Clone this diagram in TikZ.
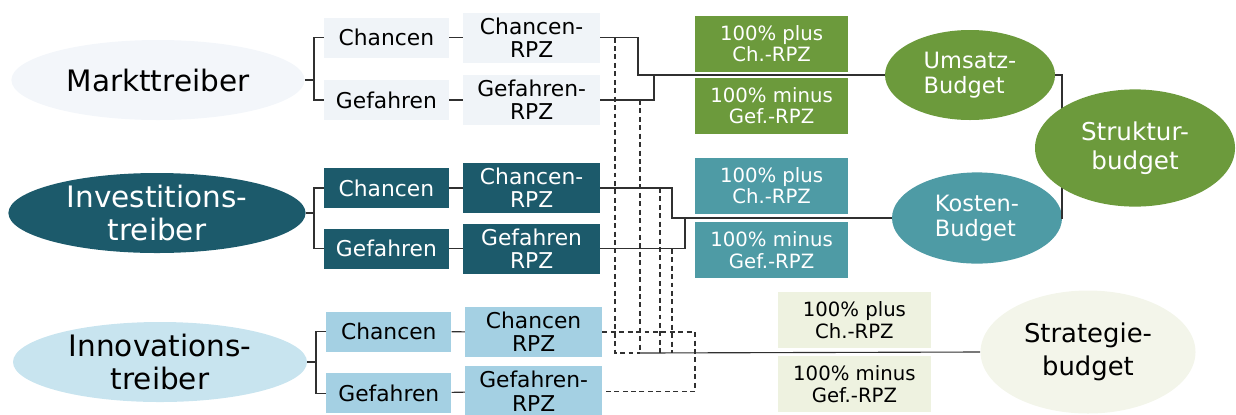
\documentclass[tikz,border=0pt]{standalone}
\usepackage{fontspec}
\setmainfont{DejaVu Sans}
\usetikzlibrary{shapes.geometric}
\definecolor{marktell}{HTML}{F3F6FA}
\definecolor{marktbox}{HTML}{F0F4F8}
\definecolor{invdunkel}{HTML}{1C5A6B}
\definecolor{innoell}{HTML}{C8E4EF}
\definecolor{innobox}{HTML}{A4D0E3}
\definecolor{gruen}{HTML}{6C9A3C}
\definecolor{petrol}{HTML}{4E9BA5}
\definecolor{stratbox}{HTML}{EEF2E0}
\definecolor{stratell}{HTML}{F3F5EA}
\definecolor{linienfarbe}{HTML}{303030}

\begin{document}
\begin{tikzpicture}
    \tikzstyle{treiber}=[ellipse, inner xsep=0pt, inner ysep=-4pt, minimum width=7.35cm, minimum height=2cm, align=center, font=\fontsize{21}{23.5}\selectfont]
    \tikzstyle{feld}=[rectangle, minimum width=3.125cm, minimum height=1cm, align=center, font=\fontsize{15.5}{16.5}\selectfont]
    \tikzstyle{rpz}=[feld, minimum width=3.425cm, minimum height=1.25cm]
    \tikzstyle{anteil}=[rectangle, minimum width=3.825cm, minimum height=1.4cm, align=center, font=\fontsize{14}{15.5}\selectfont]
    \tikzstyle{budget}=[ellipse, inner sep=0pt]
    \tikzstyle{verb}=[draw=linienfarbe, line width=0.8pt]
    \tikzstyle{verbgestr}=[verb, dash pattern=on 3.5pt off 2.5pt]
    \useasboundingbox (0,0) rectangle (30.9,-10.35);
    % Markttreiber
    \node[treiber, fill=marktell, minimum width=7.33cm] (mt) at (3.95,-2.0) {Markttreiber};
    \node[feld, fill=marktbox] (mch) at (9.66,-0.94) {Chancen};
    \node[feld, fill=marktbox] (mge) at (9.66,-2.5) {Gefahren};
    \node[rpz, fill=marktbox] (mchr) at (13.29,-0.94) {Chancen-\\RPZ};
    \node[rpz, fill=marktbox] (mger) at (13.29,-2.5) {Gefahren-\\RPZ};
    % Investitionstreiber
    \node[treiber, fill=invdunkel, text=white, minimum width=7.43cm] (it) at (3.925,-5.325) {Investitions-\\treiber};
    \node[feld, fill=invdunkel, text=white] (ich) at (9.66,-4.7) {Chancen};
    \node[feld, fill=invdunkel, text=white] (ige) at (9.66,-6.22) {Gefahren};
    \node[rpz, fill=invdunkel, text=white] (ichr) at (13.29,-4.7) {Chancen-\\RPZ};
    \node[rpz, fill=invdunkel, text=white] (iger) at (13.29,-6.22) {Gefahren\\RPZ};
    % Innovationstreiber
    \node[treiber, fill=innoell] (nt) at (4.0,-9.05) {Innovations-\\treiber};
    \node[feld, fill=innobox] (nch) at (9.72,-8.29) {Chancen};
    \node[feld, fill=innobox] (nge) at (9.72,-9.83) {Gefahren};
    \node[rpz, fill=innobox] (nchr) at (13.34,-8.3) {Chancen\\RPZ};
    \node[rpz, fill=innobox] (nger) at (13.34,-9.78) {Gefahren-\\RPZ};
    % Anteile
    \node[anteil, fill=gruen, text=white] (mplus) at (19.29,-1.09) {100\% plus\\Ch.-RPZ};
    \node[anteil, fill=gruen, text=white] (mminus) at (19.29,-2.64) {100\% minus\\Gef.-RPZ};
    \node[anteil, fill=petrol, text=white] (iplus) at (19.29,-4.64) {100\% plus\\Ch.-RPZ};
    \node[anteil, fill=petrol, text=white] (iminus) at (19.29,-6.25) {100\% minus\\Gef.-RPZ};
    \node[anteil, fill=stratbox] (nplus) at (21.36,-8.01) {100\% plus\\Ch.-RPZ};
    \node[anteil, fill=stratbox] (nminus) at (21.36,-9.6) {100\% minus\\Gef.-RPZ};
    % Budgets
    \node[budget, fill=gruen, text=white, minimum width=4.25cm, minimum height=2.25cm, align=left, font=\fontsize{16}{18}\selectfont] (umsatz) at (24.25,-1.875) {Umsatz-\\Budget};
    \node[budget, fill=petrol, text=white, minimum width=4.25cm, minimum height=2.28cm, align=left, font=\fontsize{16}{18}\selectfont] (kosten) at (24.425,-5.45) {Kosten-\\Budget};
    \node[budget, fill=stratell, minimum width=5.375cm, minimum height=3.075cm, align=center, font=\fontsize{18.4}{23}\selectfont] (strat) at (27.2,-8.8) {Strategie-\\budget};
    % Klammern
    \coordinate (mb) at (7.85,-2.0);
    \coordinate (ib) at (7.85,-5.325);
    \coordinate (nb) at (7.9,-9.05);
    \draw[verb] (mch.west) -| (mb) |- (mge.west);
    \draw[verb] (mt.east) -- (mb);
    \draw[verb] (ich.west) -| (ib) |- (ige.west);
    \draw[verb] (it.east) -- (ib);
    \draw[verb] (nch.west) -| (nb) |- (nge.west);
    \draw[verb] (nt.east) -- (nb);
    \foreach \a/\b in {mch/mchr, mge/mger, ich/ichr, ige/iger, nch/nchr, nge/nger}
      \draw[verb] (\a) -- (\b);
    % Zusammenfuehrung
    \coordinate (mk) at (15.95,-1.875);
    \coordinate (mj) at (16.35,-1.875);
    \coordinate (ik) at (16.8,-5.45);
    \coordinate (ij) at (17.125,-5.45);
    \draw[verb] (mchr.east) -| (mk) -- (umsatz.west);
    \draw[verb] (mger.east) -| (mj);
    \draw[verb] (ichr.east) -| (ik) -- (kosten.west);
    \draw[verb] (iger.east) -| (ij);
    \coordinate (d1) at (15.375,-8.825);
    \coordinate (d2) at (16.0,-8.825);
    \coordinate (d3) at (16.5,-8.825);
    \coordinate (d4) at (16.8,-8.825);
    \coordinate (nj) at (17.375,-8.825);
    \draw[verbgestr] (mchr.east -| d1) -- (d1) -- (d2);
    \foreach \n/\d in {mger/d2, ichr/d3, iger/d4}
      \draw[verbgestr] (\n.east -| \d) -- (\d);
    \draw[verbgestr] (nchr.east) -| (nj) |- (nger.east);
    \draw[verb] (d2) -- (strat.west);
    \coordinate (rb) at (26.55,-3.7);
    \draw[verb] (umsatz.east) -| (rb) |- (kosten.east);
    \node[budget, fill=gruen, text=white, minimum width=5.0cm, minimum height=2.93cm, align=center, font=\fontsize{17.5}{21}\selectfont] (struktur) at (28.375,-3.7) {Struktur-\\budget};
\end{tikzpicture}
\end{document}
